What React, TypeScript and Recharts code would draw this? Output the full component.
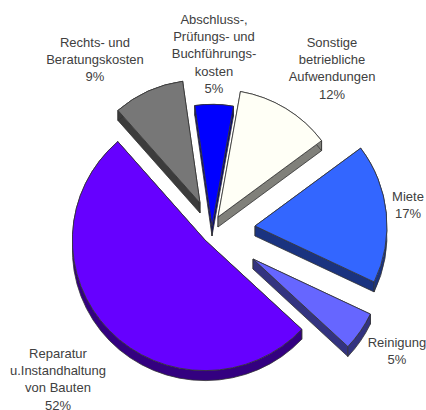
import { PieChart, Pie } from 'recharts';

const categories = [
  'Abschluss-,\nPrüfungs- und\nBuchführungs-\nkosten',
  'Sonstige\nbetriebliche\nAufwendungen',
  'Miete',
  'Reinigung',
  'Reparatur\nu.Instandhaltung\nvon Bauten',
  'Rechts- und\nBeratungskosten',
];
const values = [5.0, 12.0, 17.3, 4.9, 51.6, 9.2];
const topColors = ['#0000ff', '#fffff6', '#3366ff', '#6666ff', '#6600ff', '#777777'];
const sideColors = ['#000080', '#80807a', '#1a3380', '#333380', '#330080', '#3c3c3c'];

// how far each slice is pulled out of the pie, and its size relative to the pie radius
const explode = [
  { dx: -4, dy: -10, scale: 0.95 },
  { dx: 2, dy: -19, scale: 0.995 },
  { dx: 39, dy: -10, scale: 1.015 },
  { dx: 37, dy: 23, scale: 1 },
  { dx: -11, dy: 4, scale: 1.02 },
  { dx: -16, dy: -33, scale: 0.96 },
];
// centre of each label block, first line baseline
const labelPos = [
  { x: 214, y: 24 },
  { x: 332, y: 47 },
  { x: 408, y: 201 },
  { x: 397, y: 347 },
  { x: 58, y: 358 },
  { x: 95, y: 47 },
];

const DEPTH = 10;
const SQUASH = 0.985;
const LINE_HEIGHT = 17.2;

const tableData = categories.map((name, i) => ({
  name,
  value: values[i],
  fill: topColors[i],
}));

function ExplodedSlice(props: any) {
  const { cx, cy, outerRadius, startAngle, endAngle, index, fill } = props;
  const e = explode[index];
  const ax = cx + e.dx;
  const ay = cy + e.dy;
  const rx = outerRadius * e.scale;
  const ry = rx * SQUASH;
  const hi = Math.max(startAngle, endAngle);
  const lo = Math.min(startAngle, endAngle);
  const pt = (deg: number) => {
    const t = (deg * Math.PI) / 180;
    return [ax + rx * Math.cos(t), ay - ry * Math.sin(t)];
  };
  const large = hi - lo > 180 ? 1 : 0;
  const [x1, y1] = pt(hi);
  const [x2, y2] = pt(lo);
  const top = `M${ax},${ay} L${x1},${y1} A${rx},${ry} 0 ${large} 1 ${x2},${y2} Z`;
  const rim =
    `M${x1},${y1} A${rx},${ry} 0 ${large} 1 ${x2},${y2} L${x2},${y2 + DEPTH} ` +
    `A${rx},${ry} 0 ${large} 0 ${x1},${y1 + DEPTH} Z`;
  const edge1 = `M${ax},${ay} L${x1},${y1} L${x1},${y1 + DEPTH} L${ax},${ay + DEPTH} Z`;
  const edge2 = `M${ax},${ay} L${x2},${y2} L${x2},${y2 + DEPTH} L${ax},${ay + DEPTH} Z`;
  const stroke = { stroke: '#333333', strokeWidth: 0.8, strokeLinejoin: 'round' as const };
  return (
    <g>
      <path d={edge1} fill={sideColors[index]} {...stroke} />
      <path d={edge2} fill={sideColors[index]} {...stroke} />
      <path d={rim} fill={sideColors[index]} {...stroke} />
      <path d={top} fill={fill} {...stroke} />
    </g>
  );
}

function SliceLabel(props: any) {
  const { index, percent } = props;
  const pos = labelPos[index];
  const lines = [...categories[index].split('\n'), `${Math.round(percent * 100)}%`];
  return (
    <text
      x={pos.x}
      y={pos.y}
      textAnchor="middle"
      fontFamily="Liberation Sans, Arial, sans-serif"
      fontSize={13}
      fill="#404040"
    >
      {lines.map((line, i) => (
        <tspan key={i} x={pos.x} y={pos.y + i * LINE_HEIGHT}>
          {line}
        </tspan>
      ))}
    </text>
  );
}

export default function App() {
  return (
    <div style={{ position: 'absolute', left: 0, top: 0, width: 426, height: 410, background: '#fff' }}>
      <PieChart width={426} height={410} margin={{ top: 0, right: 0, bottom: 0, left: 0 }}>
        <Pie
          data={tableData}
          dataKey="value"
          nameKey="name"
          cx={216}
          cy={236}
          innerRadius={0}
          outerRadius={130}
          startAngle={98}
          endAngle={-262}
          paddingAngle={0}
          stroke="none"
          shape={ExplodedSlice}
          label={SliceLabel}
          labelLine={false}
          isAnimationActive={false}
        />
      </PieChart>
    </div>
  );
}
